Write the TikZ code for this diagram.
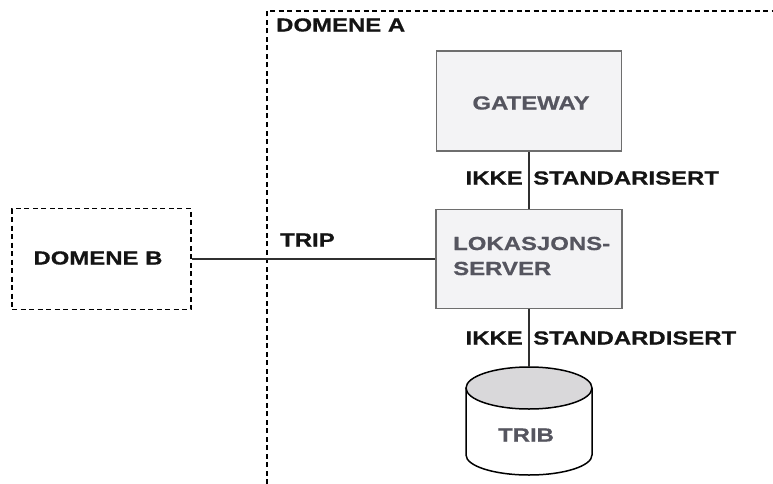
\documentclass[tikz,border=0pt]{standalone}
\usepackage{fontspec}
\newfontfamily\lab{Liberation Sans Bold}[FakeStretch=1.26, FakeBold=0.6]
\definecolor{boxfill}{HTML}{F3F3F5}
\definecolor{boxline}{HTML}{6E6E6E}
\definecolor{intext}{HTML}{55555F}
\definecolor{cyltop}{HTML}{D9D8DA}
\definecolor{conn}{HTML}{303030}
\tikzset{
  lbl/.style={font=\lab\fontsize{19}{25}\selectfont, text=black!92, inner sep=0pt},
  inlbl/.style={font=\lab\fontsize{19}{25}\selectfont, text=intext, inner sep=0pt},
  srvbox/.style={draw=boxline, line width=1.3pt, fill=boxfill, inner sep=0pt},
  domline/.style={draw=black, line width=1.3pt, dash pattern=on 5pt off 3.5pt},
  connline/.style={draw=conn, line width=1.3pt},
}
\begin{document}
\begin{tikzpicture}[x=1pt,y=-1pt]
\useasboundingbox (0,0) rectangle (773,484);
% Domain A border
\coordinate (aBL) at (267,484);
\coordinate (aTL) at (267,11);
\coordinate (aTR) at (773,11);
\draw[domline] (aBL) -- (aTL) -- (aTR);
\node[lbl, anchor=west] (labA) at (276,25) {DOMENE A};
% Domain B
\node[domline, minimum width=179pt, minimum height=101pt, inner sep=0pt] (domB) at (101.5,259) {};
\node[lbl] (labB) at (98,258) {DOMENE B};
% Gateway
\node[srvbox, minimum width=185pt, minimum height=100pt] (gw) at (529,101) {};
\node[inlbl] (gwt) at (531,103) {GATEWAY};
% Location server
\node[srvbox, minimum width=186pt, minimum height=99pt] (ls) at (529,259) {};
\node[inlbl, align=left, anchor=west] (lst) at (453,256) {LOKASJONS-\\SERVER};
% Cylinder TRIB
\coordinate (ctop) at (529,367);
\fill[white] (466,388) -- (466,455) arc[start angle=180, end angle=0, x radius=63, y radius=20] -- (592,388) -- cycle;
\draw[black, line width=1.5pt] (466,388) -- (466,455) arc[start angle=180, end angle=0, x radius=63, y radius=20] -- (592,388);
\draw[black, line width=1.5pt, fill=cyltop] (529,388) ellipse[x radius=63, y radius=21];
\node[inlbl] (trib) at (526,435) {TRIB};
% Connectors
\draw[connline] (gw.south) -- (ls.north);
\draw[connline] (domB.east) -- (ls.west);
\draw[connline] (ls.south) -- (ctop);
% Connector labels
\node[lbl, anchor=east] (ik1) at (523,178) {IKKE};
\node[lbl, anchor=west] (st1) at (533,178) {STANDARISERT};
\node[lbl, anchor=west] (trip) at (280,240) {TRIP};
\node[lbl, anchor=east] (ik2) at (523,338) {IKKE};
\node[lbl, anchor=west] (st2) at (533,338) {STANDARDISERT};
\end{tikzpicture}
\end{document}
